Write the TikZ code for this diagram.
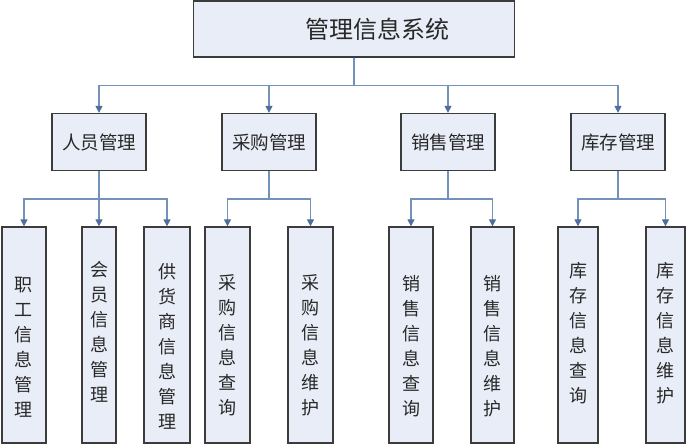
\documentclass[tikz,border=0pt]{standalone}
\usepackage{fontspec}
\newfontfamily\cjk{Noto Sans CJK SC}
\usetikzlibrary{arrows.meta,positioning}
\definecolor{boxfill}{RGB}{233,237,247}
\definecolor{boxline}{RGB}{60,60,60}
\definecolor{linkblue}{RGB}{115,145,185}
\definecolor{tipblue}{RGB}{80,110,155}
\definecolor{txt}{RGB}{40,40,40}

\begin{document}
\begin{tikzpicture}[x=1pt,y=-1pt,
  box/.style={draw=boxline, fill=boxfill, line width=1.3pt, inner sep=0pt},
  sysbox/.style={box, minimum width=321pt, minimum height=56pt},
  grpbox/.style={box, minimum width=94pt, minimum height=57pt, font=\cjk\fontsize{18.5}{20}\selectfont, text=txt},
  leafbox/.style={box, minimum height=216pt},
  vtxt/.style={font=\cjk\fontsize{18}{25}\selectfont, align=center, text=txt, inner sep=0pt},
  arr/.style={draw=linkblue, line width=1.3pt, -{Triangle[width=7pt,length=7pt,color=tipblue]}}
]
\useasboundingbox (0,0) rectangle (686,446);

% top level
\node[sysbox] (sys) at (354,29) {};
\node[font=\cjk\fontsize{24}{26}\selectfont, text=txt] (systxt) at (377,29) {管理信息系统};

% second level
\node[grpbox] (ry) at (99,142) {人员管理};
\node[grpbox] (cg) at (269,142) {采购管理};
\node[grpbox] (xs) at (448,142) {销售管理};
\node[grpbox] (kc) at (618,142) {库存管理};

% leaves
\node[leafbox, minimum width=44pt] (zg)  at (24,335) {};
\node[leafbox, minimum width=34pt] (hy)  at (99,335) {};
\node[leafbox, minimum width=46pt] (ghs) at (167,335) {};
\node[leafbox, minimum width=45pt] (cgc) at (227.5,335) {};
\node[leafbox, minimum width=45pt] (cgw) at (310.5,335) {};
\node[leafbox, minimum width=44pt] (xsc) at (411,335) {};
\node[leafbox, minimum width=43pt] (xsw) at (492.5,335) {};
\node[leafbox, minimum width=40pt] (kcc) at (578,335) {};
\node[leafbox, minimum width=39pt] (kcw) at (665.5,335) {};

\node[vtxt] (zgt)  at (24,347)    {职\\工\\信\\息\\管\\理};
\node[vtxt] (hyt)  at (99,332)    {会\\员\\信\\息\\管\\理};
\node[vtxt] (ghst) at (167,346)   {供\\货\\商\\信\\息\\管\\理};
\node[vtxt] (cgct) at (227.5,345) {采\\购\\信\\息\\查\\询};
\node[vtxt] (cgwt) at (310.5,345) {采\\购\\信\\息\\维\\护};
\node[vtxt] (xsct) at (411,346)   {销\\售\\信\\息\\查\\询};
\node[vtxt] (xswt) at (492.5,346) {销\\售\\信\\息\\维\\护};
\node[vtxt] (kcct) at (578,333)   {库\\存\\信\\息\\查\\询};
\node[vtxt] (kcwt) at (665.5,333) {库\\存\\信\\息\\维\\护};

% connectors
\foreach \g in {ry,cg,xs,kc}
  \draw[arr] (sys.south) -- ++(0,28) -| (\g.north);
\foreach \c in {zg,hy,ghs}
  \draw[arr] (ry.south) -- ++(0,28) -| (\c.north);
\foreach \c in {cgc,cgw}
  \draw[arr] (cg.south) -- ++(0,28) -| (\c.north);
\foreach \c in {xsc,xsw}
  \draw[arr] (xs.south) -- ++(0,28) -| (\c.north);
\foreach \c in {kcc,kcw}
  \draw[arr] (kc.south) -- ++(0,28) -| (\c.north);
\end{tikzpicture}
\end{document}
